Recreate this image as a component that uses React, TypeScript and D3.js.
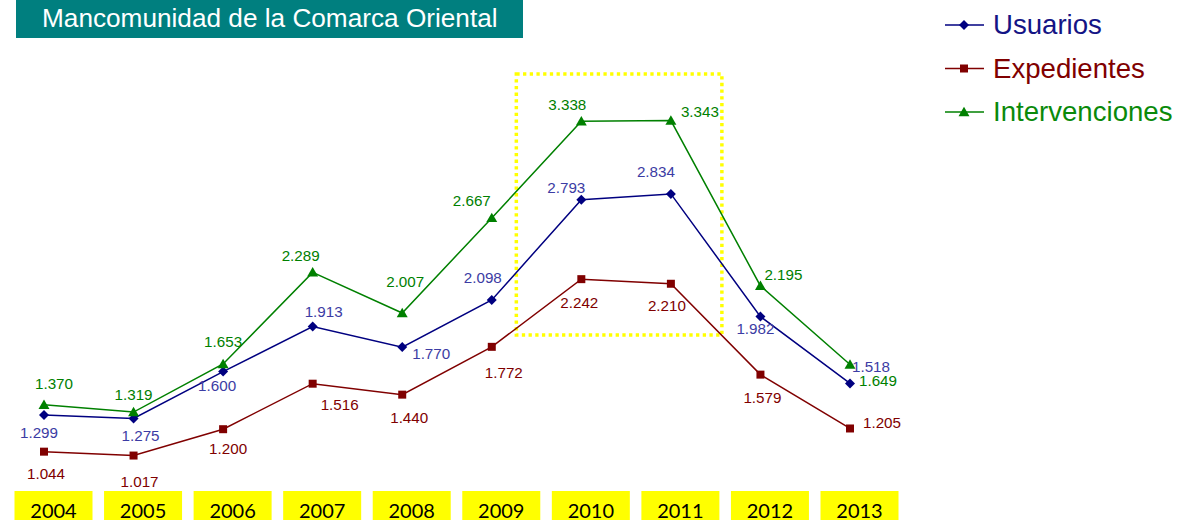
import React from 'react';
import * as d3 from 'd3';

const width = 1177;
const height = 520;

const years = [2004, 2005, 2006, 2007, 2008, 2009, 2010, 2011, 2012, 2013];
const usuarios = [1.299, 1.275, 1.6, 1.913, 1.77, 2.098, 2.793, 2.834, 1.982, 1.518];
const expedientes = [1.044, 1.017, 1.2, 1.516, 1.44, 1.772, 2.242, 2.21, 1.579, 1.205];
const intervenciones = [1.37, 1.319, 1.653, 2.289, 2.007, 2.667, 3.338, 3.343, 2.195, 1.649];

// where each value label sits, relative to its point (dx, dy of the text centre)
const labelOffsets = {
  usuarios: [[-5, 18], [7, 17], [-6, 14], [11, -15], [29, 6], [-9, -22], [-15, -12], [-15, -22], [-5, 12], [21, -17]],
  expedientes: [[2, 22], [6, 26], [5, 19], [27, 21], [7, 23], [12, 26], [-2, 23], [-4, 22], [2, 23], [32, -6]],
  intervenciones: [[10, -21], [0, -18], [0, -22], [-12, -17], [3, -31], [-20, -17], [-14, -17], [29, -9], [23, -11], [28, 16]],
};

const series = [
  { key: 'usuarios', name: 'Usuarios', values: usuarios, line: '#000080', label: '#3c3ca4', text: '#141485', symbol: 'diamond' },
  { key: 'expedientes', name: 'Expedientes', values: expedientes, line: '#800000', label: '#800000', text: '#800000', symbol: 'square' },
  { key: 'intervenciones', name: 'Intervenciones', values: intervenciones, line: '#008000', label: '#008000', text: '#0a8a0a', symbol: 'triangle' },
];

const fmt = (v: number) => v.toFixed(3);

const x = d3.scalePoint<number>().domain(years).range([44, 850]);
const y = d3.scaleLinear().domain([1, 3.5]).range([458, 98]);

const marker = (type: string) => {
  if (type === 'diamond') return d3.symbol().type(d3.symbolSquare).size(50)();
  if (type === 'square') return d3.symbol().type(d3.symbolSquare).size(64)();
  return d3.symbol().type(d3.symbolTriangle).size(52)();
};

const Marker = ({ type, color, cx, cy }: { type: string; color: string; cx: number; cy: number }) => (
  <path
    d={marker(type) || ''}
    fill={color}
    transform={`translate(${cx},${cy})${type === 'diamond' ? ' rotate(45)' : type === 'triangle' ? ' translate(0,1)' : ''}`}
  />
);

export default function App() {
  const line = d3.line<number>().x((_, i) => x(years[i]) as number).y(v => y(v));
  const font = '"Liberation Sans", Arial, sans-serif';

  return (
    <svg width={width} height={height} style={{ position: 'absolute', left: 0, top: 0, background: '#fff' }}>
      {/* title */}
      <rect x={16} y={0} width={507} height={38} fill="#007f7f" />
      <text x={42} y={27} fill="#fff" fontFamily={font} fontSize={26.2}>
        Mancomunidad de la Comarca Oriental
      </text>

      {/* highlight box around 2010-2011 */}
      <rect
        x={(x(2010) as number) - 65}
        y={74}
        width={(x(2011) as number) - (x(2010) as number) + 116}
        height={261}
        fill="none"
        stroke="#ffff00"
        strokeWidth={3.5}
        strokeDasharray="3.3 3.4"
      />

      {series.map(s => (
        <g key={s.key}>
          <path d={line(s.values) || ''} fill="none" stroke={s.line} strokeWidth={1.5} />
          {s.values.map((v, i) => (
            <Marker key={i} type={s.symbol} color={s.line} cx={x(years[i]) as number} cy={y(v)} />
          ))}
        </g>
      ))}

      {series.map(s => (
        <g key={s.key + '-labels'}>
          {s.values.map((v, i) => {
            const [dx, dy] = labelOffsets[s.key as keyof typeof labelOffsets][i];
            return (
              <text
                key={i}
                x={(x(years[i]) as number) + dx}
                y={y(v) + dy + 5.5}
                textAnchor="middle"
                fill={s.label}
                fontFamily={font}
                fontSize={15.2}
              >
                {fmt(v)}
              </text>
            );
          })}
        </g>
      ))}

      {/* year labels */}
      {years.map(yr => (
        <g key={yr}>
          <rect x={(x(yr) as number) + 9.5 - 39} y={491} width={78} height={29} fill="#ffff00" />
          <text
            x={(x(yr) as number) + 9.5}
            y={518}
            textAnchor="middle"
            fill="#000"
            fontFamily="Lato, Carlito, sans-serif"
            fontSize={20}
          >
            {yr}
          </text>
        </g>
      ))}

      {/* legend */}
      {series.map((s, i) => {
        const ly = 25 + i * 43.5;
        return (
          <g key={s.key + '-legend'}>
            <line x1={945} x2={984} y1={ly} y2={ly} stroke={s.line} strokeWidth={1.5} />
            <Marker type={s.symbol} color={s.line} cx={964} cy={ly} />
            <text x={993} y={ly + 9} fill={s.text} fontFamily={font} fontSize={27.6}>
              {s.name}
            </text>
          </g>
        );
      })}
    </svg>
  );
}
